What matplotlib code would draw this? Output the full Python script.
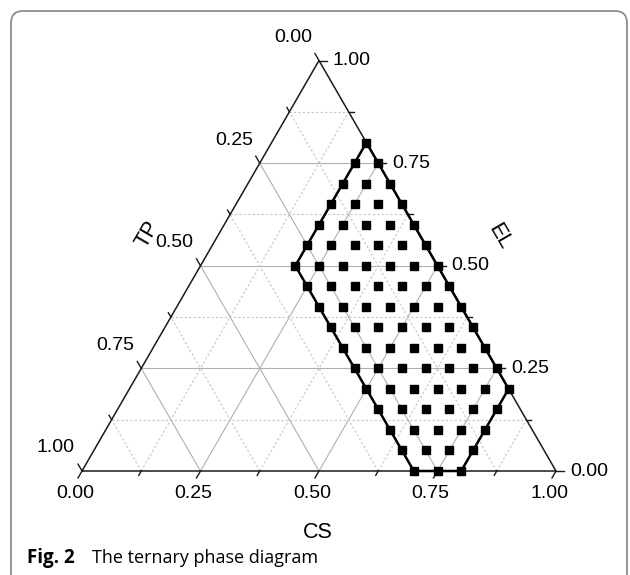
import numpy as np
import matplotlib
matplotlib.use("Agg")
import matplotlib.pyplot as plt
from matplotlib.patches import FancyBboxPatch

# sampled compositions: one row per EL value, the CS values found on that row
el_rows = [0.00, 0.05, 0.10, 0.15, 0.20, 0.25, 0.30, 0.35, 0.40,
           0.45, 0.50, 0.55, 0.60, 0.65, 0.70, 0.75, 0.80]
cs_rows = [
    [0.70, 0.75, 0.80],
    [0.65, 0.70, 0.75, 0.80],
    [0.60, 0.65, 0.70, 0.75, 0.80],
    [0.55, 0.60, 0.65, 0.70, 0.75, 0.80],
    [0.50, 0.55, 0.60, 0.65, 0.70, 0.75, 0.80],
    [0.45, 0.50, 0.55, 0.60, 0.65, 0.70, 0.75],
    [0.40, 0.45, 0.50, 0.55, 0.60, 0.65, 0.70],
    [0.35, 0.40, 0.45, 0.50, 0.55, 0.60, 0.65],
    [0.30, 0.35, 0.40, 0.45, 0.50, 0.55, 0.60],
    [0.25, 0.30, 0.35, 0.40, 0.45, 0.50, 0.55],
    [0.20, 0.25, 0.30, 0.35, 0.40, 0.45, 0.50],
    [0.20, 0.25, 0.30, 0.35, 0.40, 0.45],
    [0.20, 0.25, 0.30, 0.35, 0.40],
    [0.20, 0.25, 0.30, 0.35],
    [0.20, 0.25, 0.30],
    [0.20, 0.25],
    [0.20],
]

# outline of the phase region (CS, EL corners)
region_cs = [0.20, 0.80, 0.80, 0.70, 0.20, 0.20]
region_el = [0.80, 0.20, 0.00, 0.00, 0.50, 0.80]

major_ticks = [0.00, 0.25, 0.50, 0.75, 1.00]
major_labels = ["0.00", "0.25", "0.50", "0.75", "1.00"]
minor_ticks = [0.125, 0.375, 0.625, 0.875]

SQ3 = np.sqrt(3) / 2
PX = 1 / 474.0  # one pixel in data units (triangle side = 474 px)


def tern(cs, el):
    cs = np.asarray(cs, dtype=float)
    el = np.asarray(el, dtype=float)
    return cs + el / 2, el * SQ3


fig = plt.figure(figsize=(6.3, 5.75), dpi=100)
ax = fig.add_axes([0, 0, 1, 1])
ax.set_xlim(-82 * PX, 548 * PX)
ax.set_ylim(-104 * PX, 471 * PX)
ax.axis("off")

# frame around the figure, like the journal panel
frame = FancyBboxPatch((-71 * PX, -140 * PX), 616 * PX, 600 * PX,
                       boxstyle="round,pad=0,rounding_size=%f" % (12 * PX),
                       fc="none", ec="#8c8c8c", lw=1.3, clip_on=False)
ax.add_patch(frame)

# grid
for vals, ls, col in [(major_ticks[1:-1], "-", "#b0b0b0"), (minor_ticks, (0, (2, 2)), "#c4c4c4")]:
    for v in vals:
        # constant EL
        x, y = tern([0, 1 - v], [v, v])
        ax.plot(x, y, ls=ls, color=col, lw=0.8, zorder=1)
        # constant CS
        x, y = tern([v, v], [0, 1 - v])
        ax.plot(x, y, ls=ls, color=col, lw=0.8, zorder=1)
        # constant TP
        x, y = tern([1 - v, 0], [0, 1 - v])
        ax.plot(x, y, ls=ls, color=col, lw=0.8, zorder=1)

# triangle
x, y = tern([0, 1, 0, 0], [0, 0, 1, 0])
ax.plot(x, y, color="#1a1a1a", lw=1.1, zorder=3, solid_joinstyle="miter")

# ticks and labels
tick_dirs = {
    "CS": (-0.5, -SQ3),
    "EL": (1.0, 0.0),
    "TP": (-0.5, SQ3),
}


def axis_point(name, v):
    if name == "CS":
        return tern(v, 0)
    if name == "EL":
        return tern(1 - v, v)
    return tern(0, 1 - v)


for name in ["CS", "EL", "TP"]:
    dx, dy = tick_dirs[name]
    for vals, ln in [(major_ticks, 8), (minor_ticks, 5)]:
        for v in vals:
            px, py = axis_point(name, v)
            ax.plot([px, px + dx * ln * PX], [py, py + dy * ln * PX],
                    color="#1a1a1a", lw=1.0, zorder=3, clip_on=False)
    for v, lab in zip(major_ticks, major_labels):
        px, py = axis_point(name, v)
        if name == "CS":
            ax.text(px - 7 * PX, py - 22 * PX, lab, ha="center", va="center",
                    fontsize=14, family="Liberation Sans")
        elif name == "EL":
            ax.text(px + 14 * PX, py, lab, ha="left", va="center",
                    fontsize=14, family="Liberation Sans")
        else:
            ax.text(px - 26 * PX, py + 23 * PX, lab, ha="center", va="center",
                    fontsize=14, family="Liberation Sans")

# axis titles
ax.text(236 * PX, -61 * PX, "CS", ha="center", va="center", fontsize=15.5, family="Liberation Sans")
ax.text(418 * PX, 234 * PX, "EL", ha="center", va="center", fontsize=15.5,
        rotation=-60, family="Liberation Sans")
ax.text(66 * PX, 237 * PX, "TP", ha="center", va="center", fontsize=15.5,
        rotation=60, family="Liberation Sans")

# phase region outline and sample points
x, y = tern(region_cs, region_el)
ax.plot(x, y, color="black", lw=1.8, zorder=4, solid_joinstyle="miter")
for el, row in zip(el_rows, cs_rows):
    x, y = tern(row, [el] * len(row))
    ax.plot(x, y, ls="none", marker="s", ms=5.5, color="black", zorder=5)

# caption
ax.text(-55 * PX, -92 * PX, "Fig. 2", ha="left", va="baseline", fontsize=13.5,
        fontweight="bold", family="Open Sans", clip_on=False)
ax.text(10 * PX, -92 * PX, "The ternary phase diagram", ha="left", va="baseline",
        fontsize=13, family="Open Sans", clip_on=False)

fig.savefig("out.png", dpi=100)
